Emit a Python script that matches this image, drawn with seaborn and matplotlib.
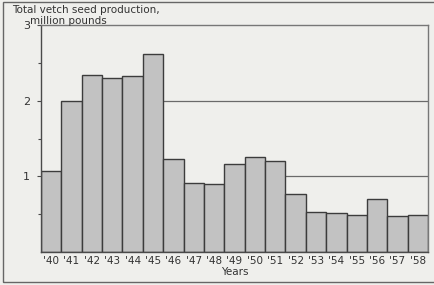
#libraries
import numpy as np
import pandas as pd
import seaborn as sns
import matplotlib
matplotlib.use('Agg')
from matplotlib import pyplot as plt
from matplotlib.patches import Rectangle

#data
years=["'40","'41","'42","'43","'44","'45","'46","'47","'48","'49",
       "'50","'51","'52","'53","'54","'55","'56","'57","'58"]
production=[1.07,1.99,2.34,2.30,2.33,2.62,1.23,0.91,0.90,1.16,
            1.25,1.20,0.76,0.53,0.51,0.49,0.70,0.47,0.49]
grid_levels=[1,2]

df=pd.DataFrame({'year':years,'production':production})

sns.set_style('white')
plt.rcParams['font.family']=['DejaVu Sans']

bg='#efefec'
ink='#4a4a4a'
fig=plt.figure(figsize=(4.35,2.85),dpi=100,facecolor=bg)
ax=fig.add_axes([0.094,0.116,0.890,0.796])
ax.set_facecolor(bg)

sns.barplot(data=df,x='year',y='production',color='#c2c2c2',saturation=1,
            width=1.0,edgecolor='#3c3c3c',linewidth=1.0,ax=ax,zorder=2)

#reference lines drawn only to the right of the last bar that rises above them
for lvl in grid_levels:
    above=[i for i,v in enumerate(production) if v>lvl]
    start=max(above)+0.5 if above else -0.5
    ax.hlines(lvl,start,len(years)-0.5,color='#6a6a6a',linewidth=0.9,zorder=1)

ax.set_xlim(-0.5,len(years)-0.5)
ax.set_ylim(0,3)
ax.set_yticks([1,2,3])
ax.set_yticklabels(['1','2','3'])
ax.set_yticks([0.5,1.5,2.5],minor=True)
ax.tick_params(axis='y',which='major',length=3,width=0.8,color=ink,labelsize=8,
               labelcolor='#333333',pad=5,left=True)
ax.tick_params(axis='y',which='minor',length=2,width=0.8,color=ink,left=True)
ax.tick_params(axis='x',length=0,labelsize=7.5,labelcolor='#333333',pad=3)
ax.set_xlabel('Years',fontsize=7.5,color='#333333',labelpad=1)
ax.set_ylabel('')
for s in ax.spines.values():
    s.set_color(ink)
    s.set_linewidth(1.0)
ax.spines['right'].set_color('#777777')
ax.spines['top'].set_color('#777777')

fig.text(0.028,0.964,'Total vetch seed production,',fontsize=7.5,color='#333333',va='center')
fig.text(0.069,0.928,'million pounds',fontsize=7.5,color='#333333',va='center')

#outer frame
fig.patches.append(Rectangle((0.007,0.010),1.2,0.983,transform=fig.transFigure,
                             fill=False,edgecolor='#666666',linewidth=1.0))

fig.savefig('out.png',dpi=100,facecolor=bg)
